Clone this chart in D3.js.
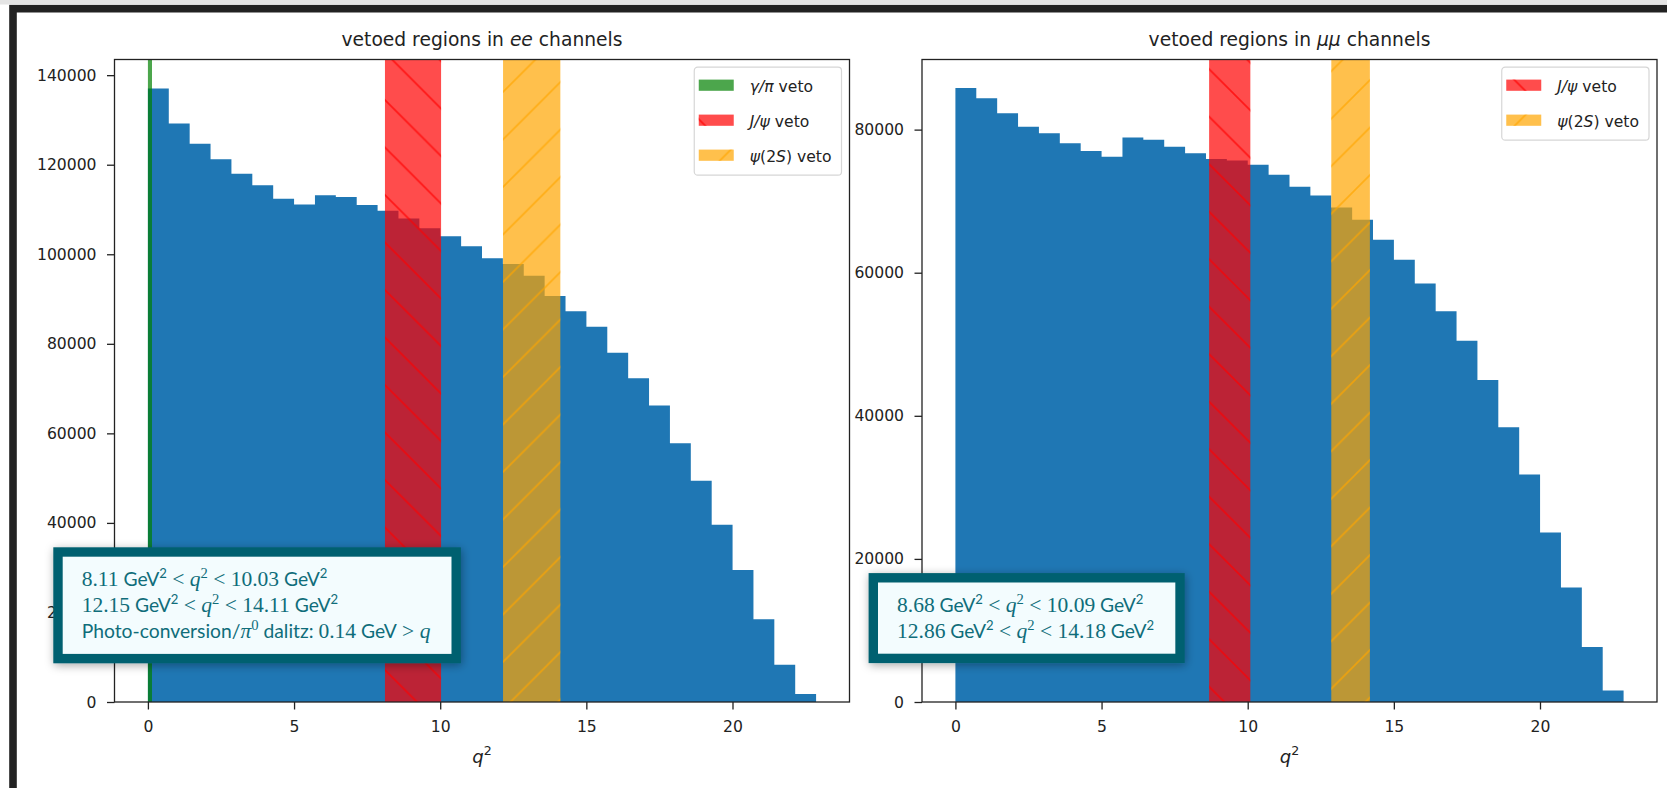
<!DOCTYPE html>
<html>
<head>
<meta charset="utf-8">
<script src="https://cdn.jsdelivr.net/npm/d3@7"></script>
<style>
  html, body { margin: 0; padding: 0; background: #fff; overflow: hidden; }
  svg { display: block; }
  text { white-space: pre; }
</style>
</head>
<body>
<svg id="fig" width="1667" height="788"></svg>
<script>
// ---- data -------------------------------------------------------------
// q^2 range covered by the histogram bins (GeV^2); 32 equal bins
const binRange = [0, 22.86];

// candidates per q^2 bin, B -> K ee
const eeCounts = [
  137000, 129200, 124700, 121200, 118000, 115400, 112400, 111100,
  113200, 112800, 111000, 109700, 108000, 105800, 104000, 101800,
  99100, 97800, 95200, 90700, 87300, 83800, 78000, 72300,
  66200, 57800, 49400, 39600, 29500, 18500, 8300, 1800
];

// candidates per q^2 bin, B -> K mumu
const mumuCounts = [
  85800, 84400, 82300, 80400, 79500, 78100, 77000, 76200,
  78900, 78600, 77600, 76700, 75900, 75700, 75100, 73700,
  72000, 70800, 69100, 67400, 64600, 61800, 58500, 54600,
  50500, 45000, 38400, 31800, 23700, 16000, 7700, 1600
];

// veto windows in q^2 (GeV^2)
const eeVetoKeys = ["gamma", "jpsi", "psi2s"];
const eeVetoLo   = [0.00, 8.11, 12.15];
const eeVetoHi   = [0.14, 10.03, 14.11];

const mumuVetoKeys = ["jpsi", "psi2s"];
const mumuVetoLo   = [8.68, 12.86];
const mumuVetoHi   = [10.09, 14.18];

// axis ticks and upper limits
const xTicks     = [0, 5, 10, 15, 20];
const eeYTicks   = [0, 20000, 40000, 60000, 80000, 100000, 120000, 140000];
const mumuYTicks = [0, 20000, 40000, 60000, 80000];
const eeYMax   = 143500;
const mumuYMax = 89800;

// ---- styling ----------------------------------------------------------
const barColor = "#1f77b4";
const vetoStyle = {
  gamma: { color: "#008000", hatch: null },
  jpsi:  { color: "#ff0000", hatch: "back" },
  psi2s: { color: "#ffa500", hatch: "fwd" }
};
const ink = "#222";
const sansFont = "'DejaVu Sans', sans-serif";
const tickFont = 15.6, titleFont = 18.7, labelFont = 18;
const noteInk = "#0f6d7a", noteEdge = "#03606f", noteFill = "#f3fcfe";

// ---- layout -----------------------------------------------------------
const axTop = 59.5, axBottom = 702, axWidth = 735;
const panelLefts = [114.5, 922];

const svg = d3.select("#fig");
const defs = svg.append("defs");

// hatch patterns aligned to the page, as matplotlib does
const P = 47.5;
function addHatch(id, color, dir, shift) {
  const p = defs.append("pattern")
    .attr("id", id)
    .attr("patternUnits", "userSpaceOnUse")
    .attr("width", P).attr("height", P)
    .attr("patternTransform", `translate(${shift},0)`);
  const d = dir === "back"
    ? `M0,0L${P},${P}M${P - 4},-4L${P + 4},4M-4,${P - 4}L4,${P + 4}`
    : `M0,${P}L${P},0M-4,4L4,-4M${P - 4},${P + 4}L${P + 4},${P - 4}`;
  p.append("path").attr("d", d)
    .attr("fill", "none")
    .attr("stroke", color)
    .attr("stroke-opacity", 0.7)
    .attr("stroke-width", 1.7);
}
addHatch("hatch-jpsi", vetoStyle.jpsi.color, "back", 0);
addHatch("hatch-psi2s", vetoStyle.psi2s.color, "fwd", 25);

const shadow = defs.append("filter").attr("id", "noteShadow")
  .attr("x", "-10%").attr("y", "-20%").attr("width", "120%").attr("height", "140%");
shadow.append("feDropShadow")
  .attr("dx", 1).attr("dy", 2).attr("stdDeviation", 5)
  .attr("flood-color", "#000").attr("flood-opacity", 0.35);

// page background and the dark frame around the figure
svg.append("rect").attr("width", 1667).attr("height", 788).attr("fill", "#fff");
svg.append("rect").attr("x", 0).attr("y", 0).attr("width", 1667).attr("height", 4.5).attr("fill", "#e4e4e4");
svg.append("rect")
  .attr("x", 13).attr("y", 8.7).attr("width", 1700).attr("height", 820)
  .attr("fill", "none").attr("stroke", "#222").attr("stroke-width", 7.6);

// ---- label builders ---------------------------------------------------
const legendLabels = {
  gamma: [["γ/π", true], [" veto", false]],
  jpsi:  [["J/ψ", true], [" veto", false]],
  psi2s: [["ψ", true], ["(2", false], ["S", true], [")", false], [" veto", false]]
};

function richText(sel, segs) {
  segs.forEach(([s, ital]) => {
    sel.append("tspan").text(s).attr("font-style", ital ? "italic" : "normal");
  });
  return sel;
}

const fmt = v => v.toFixed(2);
function rangeLine(lo, hi) {
  return [
    [fmt(lo), "n"], [" GeV", "s"], ["2", "ss"], [" < ", "n"], ["q", "i"], ["2", "ns"],
    [" < ", "n"], [fmt(hi), "n"], [" GeV", "s"], ["2", "ss"]
  ];
}
function conversionLine(hi) {
  return [
    ["Photo-conversion/", "s"], ["π", "i"], ["0", "ns"], [" dalitz: ", "s"],
    [fmt(hi), "n"], [" GeV", "s"], [" > ", "n"], ["q", "i"]
  ];
}

function noteBox(textX, lastBaseline, lines) {
  const g = svg.append("g");
  const sansSize = 19.3, serifSize = 21.5, lh = 26;
  const firstBaseline = lastBaseline - lh * (lines.length - 1);
  const box = g.append("rect");
  let maxW = 0;
  lines.forEach((segs, i) => {
    const t = g.append("text")
      .attr("x", textX).attr("y", firstBaseline + i * lh)
      .attr("fill", noteInk).attr("font-size", sansSize);
    let shift = 0;
    segs.forEach(([s, kind]) => {
      const ts = t.append("tspan").text(s);
      const sup = kind === "ss" || kind === "ns";
      const target = sup ? -8 : 0;
      if (target !== shift) { ts.attr("dy", target - shift); shift = target; }
      const isSans = kind === "s" || kind === "ss";
      const size = isSans ? sansSize : serifSize;
      ts.attr("font-size", sup ? size * 0.68 : size);
      if (isSans) {
        ts.attr("font-family", "Lato, 'Open Sans', sans-serif");
      } else {
        ts.attr("font-family", "'Liberation Serif', serif");
        if (kind === "i") ts.attr("font-style", "italic");
      }
    });
    maxW = Math.max(maxW, t.node().getComputedTextLength());
  });
  const bw = 9.4;
  const L = textX - 28.4, R = textX + maxW + 30.5;
  const T = firstBaseline - 38.4, B = lastBaseline + 25.6;
  box.attr("x", L + bw / 2).attr("y", T + bw / 2)
    .attr("width", R - L - bw).attr("height", B - T - bw)
    .attr("fill", noteFill).attr("stroke", noteEdge).attr("stroke-width", bw)
    .attr("filter", "url(#noteShadow)");
}

// ---- panels -----------------------------------------------------------
const panels = [
  { counts: eeCounts, yMax: eeYMax, yTicks: eeYTicks,
    keys: eeVetoKeys, lo: eeVetoLo, hi: eeVetoHi,
    title: [["vetoed regions in ", false], ["ee", true], [" channels", false]] },
  { counts: mumuCounts, yMax: mumuYMax, yTicks: mumuYTicks,
    keys: mumuVetoKeys, lo: mumuVetoLo, hi: mumuVetoHi,
    title: [["vetoed regions in ", false], ["μμ", true], [" channels", false]] }
];

panels.forEach((pn, pi) => {
  const left = panelLefts[pi], right = left + axWidth;
  const span = binRange[1] - binRange[0];
  const x = d3.scaleLinear()
    .domain([binRange[0] - 0.05 * span, binRange[1] + 0.05 * span])
    .range([left, right]);
  const y = d3.scaleLinear().domain([0, pn.yMax]).range([axBottom, axTop]);

  const clipId = `clip${pi}`;
  defs.append("clipPath").attr("id", clipId)
    .append("rect").attr("x", left).attr("y", axTop).attr("width", axWidth).attr("height", axBottom - axTop);

  const plot = svg.append("g").attr("clip-path", `url(#${clipId})`);

  // histogram as a stepped area
  const nb = pn.counts.length;
  const w = span / nb;
  const pts = pn.counts.map((c, i) => ({ e: binRange[0] + i * w, c }));
  pts.push({ e: binRange[1], c: pn.counts[nb - 1] });
  const area = d3.area()
    .x(d => x(d.e)).y0(y(0)).y1(d => y(d.c))
    .curve(d3.curveStepAfter);
  plot.append("path").datum(pts).attr("d", area).attr("fill", barColor);

  // veto bands
  pn.keys.forEach((k, i) => {
    const st = vetoStyle[k];
    const x0 = x(pn.lo[i]), x1 = x(pn.hi[i]);
    plot.append("rect")
      .attr("x", x0).attr("y", axTop).attr("width", x1 - x0).attr("height", axBottom - axTop)
      .attr("fill", st.color).attr("fill-opacity", 0.7);
    if (st.hatch) {
      plot.append("rect")
        .attr("x", x0).attr("y", axTop).attr("width", x1 - x0).attr("height", axBottom - axTop)
        .attr("fill", `url(#hatch-${k})`);
    }
  });

  // axes
  const xAxis = d3.axisBottom(x).tickValues(xTicks).tickSize(7.5).tickPadding(11).tickSizeOuter(0);
  const yAxis = d3.axisLeft(y).tickValues(pn.yTicks).tickSize(7.5).tickPadding(10.5).tickSizeOuter(0)
    .tickFormat(d3.format("d"));

  const gx = svg.append("g").attr("transform", `translate(0,${axBottom})`).call(xAxis);
  const gy = svg.append("g").attr("transform", `translate(${left},0)`).call(yAxis);
  [gx, gy].forEach(g => {
    g.select(".domain").remove();
    g.selectAll(".tick line").attr("stroke", ink).attr("stroke-width", 1.3);
    g.selectAll(".tick text").attr("fill", ink)
      .attr("font-family", sansFont).attr("font-size", tickFont);
  });

  // spines
  svg.append("rect")
    .attr("x", left).attr("y", axTop).attr("width", axWidth).attr("height", axBottom - axTop)
    .attr("fill", "none").attr("stroke", ink).attr("stroke-width", 1.3);

  // title and x label
  const cx = (left + right) / 2;
  richText(svg.append("text")
    .attr("x", cx).attr("y", 45.5).attr("text-anchor", "middle")
    .attr("fill", ink).attr("font-family", sansFont).attr("font-size", titleFont), pn.title);

  const xl = svg.append("text")
    .attr("x", cx).attr("y", 763).attr("text-anchor", "middle")
    .attr("fill", ink).attr("font-family", sansFont).attr("font-size", labelFont);
  xl.append("tspan").attr("font-style", "italic").text("q");
  xl.append("tspan").attr("font-size", labelFont * 0.7).attr("dy", -8).text("2");

  // legend
  const lg = svg.append("g");
  const frame = lg.append("rect");
  const rowY0 = 18.5, rowGap = 35;
  let maxW = 0;
  const texts = pn.keys.map((k, i) => {
    const t = richText(lg.append("text")
      .attr("y", rowY0 + i * rowGap + 6.5)
      .attr("fill", ink).attr("font-family", sansFont).attr("font-size", tickFont), legendLabels[k]);
    maxW = Math.max(maxW, t.node().getComputedTextLength());
    return t;
  });
  const lgW = 56 + maxW + 10.5;
  const lgH = rowY0 + (pn.keys.length - 1) * rowGap + 20.5;
  const lgX = right - 7.5 - lgW, lgY = axTop + 7.2;
  lg.attr("transform", `translate(${lgX},${lgY})`);
  frame.attr("x", 0.5).attr("y", 0.5).attr("width", lgW - 1).attr("height", lgH - 1)
    .attr("rx", 3.5).attr("fill", "#fff").attr("fill-opacity", 0.8)
    .attr("stroke", "#d6d6d6").attr("stroke-width", 1.2);
  texts.forEach(t => t.attr("x", 56));
  pn.keys.forEach((k, i) => {
    const st = vetoStyle[k];
    const sy = rowY0 + i * rowGap - 5.6;
    const sw = lg.append("g");
    sw.append("rect").attr("x", 5).attr("y", sy).attr("width", 35).attr("height", 11.2)
      .attr("fill", st.color).attr("fill-opacity", 0.7);
    if (st.hatch) {
      sw.append("rect").attr("x", 5).attr("y", sy).attr("width", 35).attr("height", 11.2)
        .attr("fill", `url(#hatch-${k})`);
    }
  });
});

// ---- notes with the veto windows --------------------------------------
noteBox(81.7, 637.7, [
  rangeLine(eeVetoLo[1], eeVetoHi[1]),
  rangeLine(eeVetoLo[2], eeVetoHi[2]),
  conversionLine(eeVetoHi[0])
]);
noteBox(897, 637.5, [
  rangeLine(mumuVetoLo[0], mumuVetoHi[0]),
  rangeLine(mumuVetoLo[1], mumuVetoHi[1])
]);
</script>
</body>
</html>
